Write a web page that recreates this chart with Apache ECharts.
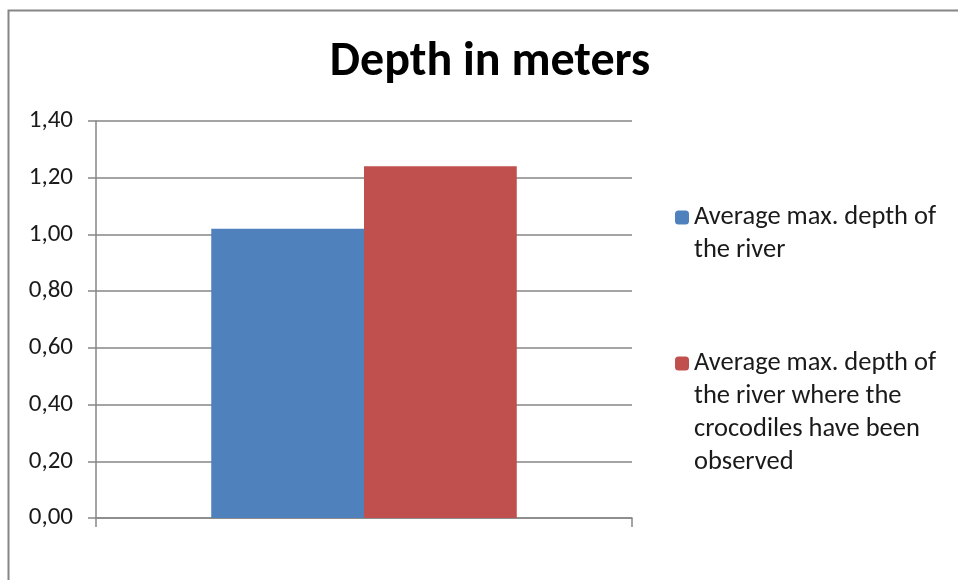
<!DOCTYPE html>
<html>
<head>
<meta charset="utf-8">
<title>Depth in meters</title>
<script src="https://cdn.jsdelivr.net/npm/echarts@6/dist/echarts.min.js"></script>
<style>
    html,body{margin:0;padding:0;background:#fff;}
    #container{width:958px;height:580px;}
</style>
</head>
<body>
<div id="container"></div>
<script>
// data
var categories = [''];
var seriesNames = ['Average max. depth of\nthe river',
    'Average max. depth of\nthe river where the\ncrocodiles have been\nobserved'];
var riverDepth = [1.02];
var crocodileDepth = [1.24];
var yTicks = [0, 0.2, 0.4, 0.6, 0.8, 1.0, 1.2, 1.4];

var font = 'Carlito, Lato, sans-serif';
var lineColor = '#868686';

// legend text is centred on the marker, so push the first line down onto it
function legendText(name) {
    var lines = name.split('\n').length;
    var pad = '';
    for (var i = 1; i < lines; i++) pad += '\n';
    return pad + name;
}

var chart = echarts.init(document.getElementById('container'));

var option = {
    backgroundColor:'#fff',
    animation:false,
    title:{
        text:'Depth in meters',
        left:485,
        textAlign:'center',
        top:34,
        textStyle:{
            fontFamily:font,
            fontWeight:'bold',
            fontSize:48,
            color:'#000'
        }
    },
    graphic:[
        {
            // chart frame, only the top and left edges are in view
            type:'rect',
            left:6,
            top:8,
            shape:{width:1200,height:1200},
            style:{fill:null,stroke:lineColor,lineWidth:2},
            silent:true
        }
    ],
    legend:[
        {
            orient:'vertical',
            left:675,
            top:168,
            padding:0,
            itemWidth:14,
            itemHeight:14,
            selectedMode:false,
            formatter:legendText,
            textStyle:{fontFamily:font,fontSize:26.5,color:'#1a1a1a',lineHeight:33},
            data:[seriesNames[0]]
        },
        {
            orient:'vertical',
            left:675,
            top:248,
            padding:0,
            itemWidth:14,
            itemHeight:14,
            selectedMode:false,
            formatter:legendText,
            textStyle:{fontFamily:font,fontSize:26.5,color:'#1a1a1a',lineHeight:33},
            data:[seriesNames[1]]
        }
    ],
    grid:{
        left:96,
        right:326,
        top:121,
        bottom:62
    },
    xAxis:{
        type:'category',
        data:categories,
        axisLine:{lineStyle:{color:lineColor,width:1.5}},
        axisTick:{show:true,length:9,lineStyle:{color:lineColor,width:1.5}},
        axisLabel:{show:false}
    },
    yAxis:{
        type:'value',
        min:yTicks[0],
        max:yTicks[yTicks.length-1],
        interval:0.2,
        axisLine:{show:true,lineStyle:{color:lineColor,width:1.5}},
        axisTick:{show:true,length:8,lineStyle:{color:lineColor,width:1.5}},
        splitLine:{show:true,lineStyle:{color:lineColor,width:1.5}},
        axisLabel:{
            margin:23,
            fontFamily:font,
            fontSize:25,
            color:'#1a1a1a',
            formatter:function (v) {
                return v.toFixed(2).replace('.',',');
            }
        }
    },
    series:[
        {
            name:seriesNames[0],
            type:'bar',
            data:riverDepth,
            barGap:'0%',
            barCategoryGap:'43%',
            itemStyle:{color:'#4F81BD'}
        },
        {
            name:seriesNames[1],
            type:'bar',
            data:crocodileDepth,
            barGap:'0%',
            barCategoryGap:'43%',
            itemStyle:{color:'#C0504D'}
        }
    ]
};

chart.setOption(option);
</script>
</body>
</html>
